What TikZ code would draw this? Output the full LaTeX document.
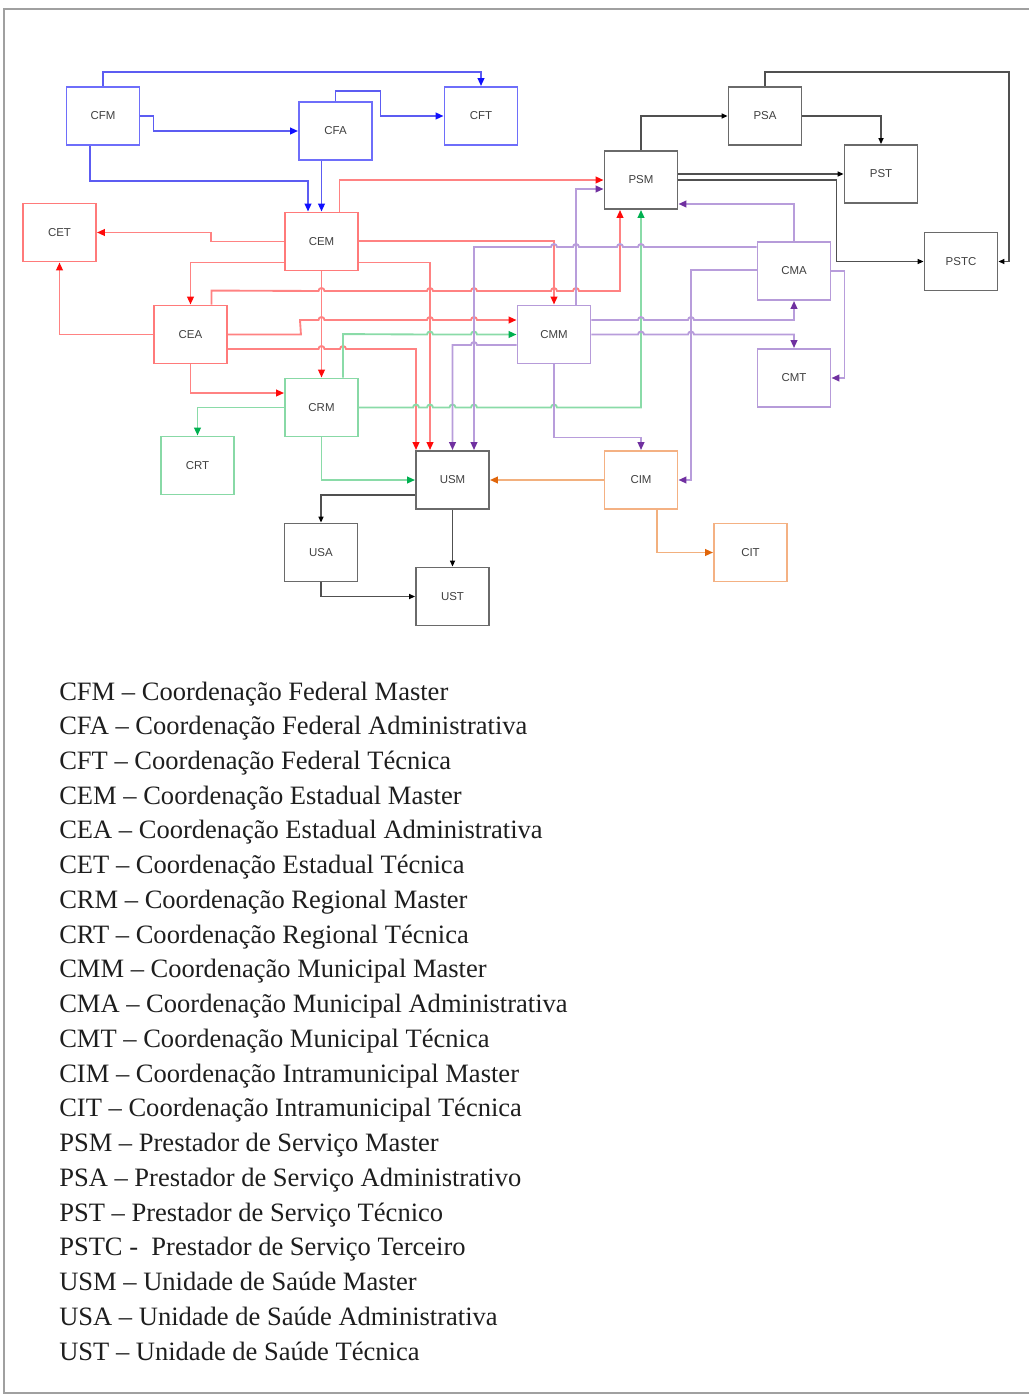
\documentclass[tikz,border=0pt]{standalone}
\usepackage{fontspec}
\setmainfont{Liberation Serif}
\newfontfamily\boxfont{Liberation Sans}
\usetikzlibrary{arrows.meta,calc}
\definecolor{blueline}{HTML}{5C5CF2}
\definecolor{bluebox}{HTML}{6E6EFA}
\definecolor{bluetip}{HTML}{1010FF}
\definecolor{redline}{HTML}{FF8282}
\definecolor{redbox}{HTML}{FF7A7A}
\definecolor{redtip}{HTML}{FF0A0A}
\definecolor{greenline}{HTML}{8ADBA8}
\definecolor{greenbox}{HTML}{88D9A6}
\definecolor{greentip}{HTML}{00B050}
\definecolor{purpline}{HTML}{B89DDB}
\definecolor{purpbox}{HTML}{B69BD9}
\definecolor{purptip}{HTML}{7030A0}
\definecolor{orangeline}{HTML}{F2B07E}
\definecolor{orangebox}{HTML}{F4B183}
\definecolor{orangetip}{HTML}{E0650A}
\definecolor{grayline}{HTML}{505050}
\definecolor{graybox}{HTML}{6A6A6A}
\definecolor{txtgray}{HTML}{404040}
\definecolor{framegray}{HTML}{A0A0A0}
\definecolor{legtext}{HTML}{1E1E1E}
\newcommand\hopR[1]{-- ({#1-3},\hy) arc[start angle=180,end angle=0,radius=2.25pt]}
\newcommand\hopL[1]{-- ({#1+3},\hy) arc[start angle=0,end angle=180,radius=2.25pt]}
\begin{document}
\begin{tikzpicture}[x=0.75pt,y=-0.75pt,
  box/.style={draw, line width=1.4pt, minimum width=54.75pt, minimum height=43.5pt,
    inner sep=0pt, fill=white, text=txtgray, font=\boxfont\fontsize{8.6}{10}\selectfont},
  bbox/.style={box, draw=bluebox},
  rbox/.style={box, draw=redbox},
  gbox/.style={box, draw=greenbox},
  pbox/.style={box, draw=purpbox},
  obox/.style={box, draw=orangebox},
  kbox/.style={box, draw=graybox},
  con/.style={line width=1.4pt},
  bl/.style={con, draw=blueline, -{Triangle[length=6pt,width=5pt,color=bluetip]}},
  rd/.style={con, draw=redline, -{Triangle[length=6pt,width=5pt,color=redtip]}},
  gr/.style={con, draw=greenline, -{Triangle[length=6pt,width=5pt,color=greentip]}},
  pu/.style={con, draw=purpline, -{Triangle[length=6pt,width=5pt,color=purptip]}},
  og/.style={con, draw=orangeline, -{Triangle[length=6pt,width=5pt,color=orangetip]}},
  bk/.style={line width=1pt, draw=grayline, -{Triangle[length=4.5pt,width=3.8pt,color=black]}},
  leg/.style={anchor=base west, inner sep=0pt, text=legtext, font=\fontsize{19.9}{24}\selectfont}
]
\useasboundingbox (0,0) rectangle (1028,1395);
\draw[framegray, line width=0.8pt] (1030,9) -- (4,9) -- (4,1393) -- (1030,1393);

% nodes
\node[bbox] (CFM) at (103,116) {CFM};
\node[bbox] (CFA) at (335.5,131) {CFA};
\node[bbox] (CFT) at (481,116) {CFT};
\node[rbox] (CET) at (59.5,232.5) {CET};
\node[rbox] (CEM) at (321.5,241.5) {CEM};
\node[rbox] (CEA) at (190.5,334.5) {CEA};
\node[gbox] (CRM) at (321.5,407.5) {CRM};
\node[gbox] (CRT) at (197.5,465.5) {CRT};
\node[pbox] (CMM) at (554,334.5) {CMM};
\node[pbox] (CMA) at (794,271) {CMA};
\node[pbox] (CMT) at (794,378) {CMT};
\node[obox] (CIM) at (641,480) {CIM};
\node[obox] (CIT) at (750.5,552.5) {CIT};
\node[kbox] (USM) at (452.5,480) {USM};
\node[kbox] (USA) at (321,552.5) {USA};
\node[kbox] (UST) at (452.5,596.5) {UST};
\node[kbox] (PSM) at (641,180) {PSM};
\node[kbox] (PSA) at (765,116) {PSA};
\node[kbox] (PST) at (881,174) {PST};
\node[kbox] (PSTC) at (961,261.5) {PSTC};

% blue
\draw[bl] (CFM.north) -- ++(0,-14) -| (CFT.north);
\draw[bl] (CFM.east) -- ++(13,0) |- (CFA.west);
\draw[bl] (CFA.north) -- ++(0,-10) -- ++(45,0) |- (CFT.west);
\draw[bl] ($(CFM.south)+(-13,0)$) -- ++(0,35) -| ($(CEM.north)+(-13.5,0)$);
\draw[bl] (CFA.south -| CEM.north) -- (CEM.north);

% red
\draw[rd] (CEM.west) -- ++(-73,0) |- (CET.east);
\draw[rd] ($(CEM.north)+(18,0)$) |- (PSM.west);
\draw[rd] ($(CEM.east)+(0,-0.5)$) -| (CMM.north);
\draw[rd] ($(CEM.west)+(0,21)$) -| (CEA.north);
\draw[rd] ($(CEM.east)+(0,21)$) -| ($(USM.north)+(-22.5,0)$);
\draw[rd] (CEM.south) -- (CRM.north);
\def\hy{291}
\draw[rd] ($(CEA.north)+(21,0)$) -- ++(0,-14) \hopR{321.5}\hopR{430}\hopR{474}\hopR{554}\hopR{576} -| ($(PSM.south)+(-21,0)$);
\def\hy{320}
\draw[rd] (CEA.east) -- ++(73,0) -- (300,\hy) \hopR{321.5}\hopR{430}\hopR{474} -- ($(CMM.west)+(0,-14.5)$);
\def\hy{349}
\draw[rd] ($(CEA.east)+(0,14.5)$) \hopR{321.5}\hopR{343} -| ($(USM.north)+(-36.5,0)$);
\draw[rd] (CEA.west) -| (CET.south);
\draw[rd] (CEA.south) |- ($(CRM.west)+(0,-14.5)$);

% green
\def\hy{334.5}
\draw[gr] ($(CRM.north)+(21.5,0)$) -- ++(0,-43.5) \hopR{430}\hopR{474} -- (CMM.west);
\draw[gr] (CRM.west) -| (CRT.north);
\draw[gr] (CRM.south) |- (USM.west);
\def\hy{407.5}
\draw[gr] (CRM.east) \hopR{416}\hopR{430}\hopR{452.5}\hopR{474}\hopR{554} -| (PSM.south);

% purple
\def\hy{247}
\draw[pu] ($(CMA.west)+(0,-24)$) \hopL{641}\hopL{620}\hopL{576}\hopL{554} -| ($(USM.north)+(21.5,0)$);
\draw[pu] ($(CMM.north)+(22,0)$) |- ($(PSM.west)+(0,9)$);
\draw[pu] (CMA.north) |- ($(PSM.east)+(0,24)$);
\draw[pu] ($(CMA.west)+(0,-1)$) -- ++(-66,0) |- (CIM.east);
\draw[pu] (CMA.east) -- ++(13,0) |- (CMT.east);
\def\hy{320}
\draw[pu] ($(CMM.east)+(0,-14.5)$) \hopR{641}\hopR{691} -| (CMA.south);
\def\hy{334.5}
\draw[pu] (CMM.east) \hopR{641}\hopR{691} -| (CMT.north);
\def\hy{345}
\draw[pu] ($(CMM.west)+(0,10.5)$) \hopL{474} -| (USM.north);
\draw[pu] (CMM.south) -- ++(0,73) -| (CIM.north);

% orange
\draw[og] (CIM.west) -- (USM.east);
\draw[og] ($(CIM.south)+(16,0)$) |- (CIT.west);

% black
\draw[bk] (PSM.north) |- (PSA.west);
\draw[bk] (PSA.east) -| (PST.north);
\draw[bk] (PSA.north) -- ++(0,-14) -- ++(244,0) |- (PSTC.east);
\draw[bk] (PSM.east |- PST.west) -- (PST.west);
\draw[bk] (PSM.east) -- ++(158,0) |- (PSTC.west);
\draw[bk] ($(USM.west)+(0,15)$) -| (USA.north);
\draw[bk] (USM.south) -- (UST.north);
\draw[bk] (USA.south) |- (UST.west);

% legend
\foreach \t [count=\i from 0] in {
  CFM – Coordenação Federal Master,
  CFA – Coordenação Federal Administrativa,
  CFT – Coordenação Federal Técnica,
  CEM – Coordenação Estadual Master,
  CEA – Coordenação Estadual Administrativa,
  CET – Coordenação Estadual Técnica,
  CRM – Coordenação Regional Master,
  CRT – Coordenação Regional Técnica,
  CMM – Coordenação Municipal Master,
  CMA – Coordenação Municipal Administrativa,
  CMT – Coordenação Municipal Técnica,
  CIM – Coordenação Intramunicipal Master,
  CIT – Coordenação Intramunicipal Técnica,
  PSM – Prestador de Serviço Master,
  PSA – Prestador de Serviço Administrativo,
  PST – Prestador de Serviço Técnico,
  PSTC -\ \ Prestador de Serviço Terceiro,
  USM – Unidade de Saúde Master,
  USA – Unidade de Saúde Administrativa,
  UST – Unidade de Saúde Técnica}
  \node[leg] (leg\i) at (59,{700+34.74*\i}) {\t};
\end{tikzpicture}
\end{document}
